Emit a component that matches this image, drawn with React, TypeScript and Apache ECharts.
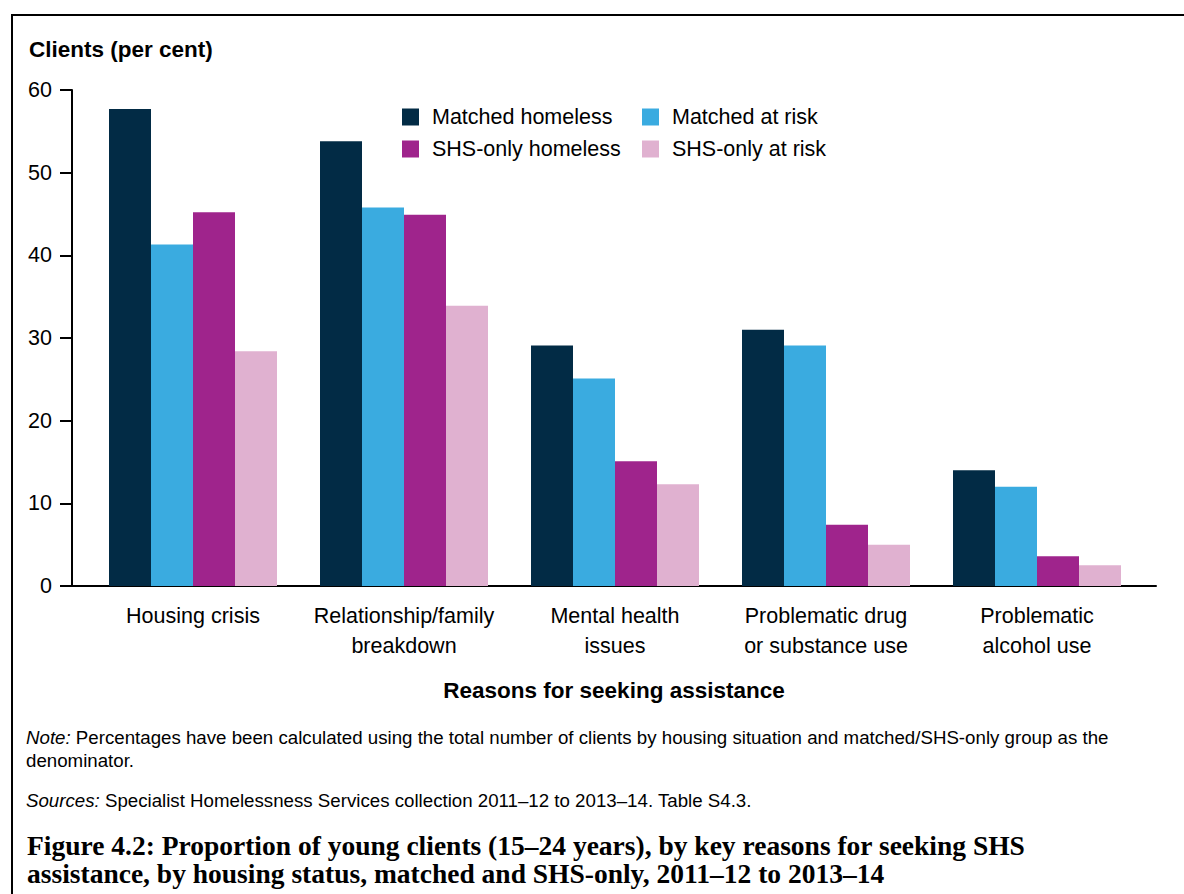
import React, { useEffect, useRef } from "react";
import * as echarts from "echarts";

const categories = [
  "Housing crisis",
  "Relationship/family\nbreakdown",
  "Mental health\nissues",
  "Problematic drug\nor substance use",
  "Problematic\nalcohol use",
];
const seriesNames = ["Matched homeless", "Matched at risk", "SHS-only homeless", "SHS-only at risk"];
const matchedHomeless = [57.7, 53.8, 29.1, 31.0, 14.0];
const matchedAtRisk = [41.3, 45.8, 25.1, 29.1, 12.0];
const shsOnlyHomeless = [45.2, 44.9, 15.1, 7.4, 3.6];
const shsOnlyAtRisk = [28.4, 33.9, 12.3, 5.0, 2.5];
const seriesColors = ["#022B45", "#3AABE0", "#9F248C", "#E0B1D0"];
const yTicks = { min: 0, max: 60, interval: 10 };

const FONT = '"Liberation Sans", Arial, Helvetica, sans-serif';
const SERIF = '"Liberation Serif", "Times New Roman", serif';

export default function App() {
  const ref = useRef<HTMLDivElement>(null);
  useEffect(() => {
    if (!ref.current) return;
    const chart = echarts.init(ref.current, undefined, { renderer: "svg" });
    const values = [matchedHomeless, matchedAtRisk, shsOnlyHomeless, shsOnlyAtRisk];
    const legendPos = [
      { left: 402, top: 106 },
      { left: 642, top: 106 },
      { left: 402, top: 138 },
      { left: 642, top: 138 },
    ];
    chart.setOption({
      animation: false,
      backgroundColor: "#fff",
      grid: [
        { left: 72, right: 28, top: 90, bottom: 308, containLabel: false },
        { left: 87.5, right: 41.5, top: 90, bottom: 308, containLabel: false },
      ],
      legend: seriesNames.map((n, i) => ({
        data: [n],
        left: legendPos[i].left,
        top: legendPos[i].top,
        padding: 0,
        itemWidth: 17,
        itemHeight: 17,
        icon: "rect",
        selectedMode: false,
        textStyle: { fontSize: 21.5, fontFamily: FONT, color: "#000", padding: [0, 0, 0, 8] },
      })),
      xAxis: [
        {
          gridIndex: 0,
          type: "category",
          data: [""],
          axisLine: { show: true, lineStyle: { color: "#000", width: 2 } },
          axisTick: { show: false },
          axisLabel: { show: false },
          splitLine: { show: false },
          name: "Reasons for seeking assistance",
          nameLocation: "middle",
          nameGap: 104,
          nameTextStyle: {
            fontSize: 22.5,
            fontWeight: "bold",
            fontFamily: FONT,
            color: "#000",
            verticalAlign: "middle",
          },
        },
        {
          gridIndex: 1,
          type: "category",
          data: categories,
          axisLine: { show: false },
          axisTick: { show: false },
          axisLabel: {
            show: true,
            interval: 0,
            margin: 15,
            fontSize: 21.5,
            lineHeight: 30,
            fontFamily: FONT,
            color: "#000",
          },
          splitLine: { show: false },
        },
      ],
      yAxis: [
        {
          gridIndex: 0,
          type: "value",
          min: yTicks.min,
          max: yTicks.max,
          interval: yTicks.interval,
          axisLine: { show: true, lineStyle: { color: "#000", width: 2 } },
          axisTick: { show: true, length: 12, lineStyle: { color: "#000", width: 2 } },
          axisLabel: { margin: 20, fontSize: 21.5, fontFamily: FONT, color: "#000" },
          splitLine: { show: false },
        },
        {
          gridIndex: 1,
          type: "value",
          min: yTicks.min,
          max: yTicks.max,
          interval: yTicks.interval,
          show: false,
          splitLine: { show: false },
        },
      ],
      series: seriesNames.map((n, i) => ({
        name: n,
        type: "bar",
        xAxisIndex: 1,
        yAxisIndex: 1,
        data: values[i],
        barWidth: 42,
        barGap: "0%",
        itemStyle: { color: seriesColors[i] },
        emphasis: { disabled: true },
      })),
      graphic: [
        {
          type: "rect",
          z: -10,
          shape: { x: 12, y: 15, width: 1400, height: 1100 },
          style: { fill: "none", stroke: "#000", lineWidth: 2 },
          silent: true,
        },
        {
          type: "text",
          x: 29,
          y: 49,
          style: {
            text: "Clients (per cent)",
            font: `bold 22.5px ${FONT}`,
            fill: "#000",
            textAlign: "left",
            textVerticalAlign: "middle",
            align: "left",
            verticalAlign: "middle",
          },
        },
        {
          type: "text",
          left: 26,
          top: 726,
          style: {
            text: "{i|Note:} Percentages have been calculated using the total number of clients by housing situation and matched/SHS-only group as the\ndenominator.",
            font: `18.7px ${FONT}`,
            fill: "#000",
            lineHeight: 23,
            rich: {
              i: { fontStyle: "italic", fontSize: 18.7, fontFamily: FONT, fill: "#000", lineHeight: 23 },
            },
          },
        },
        {
          type: "text",
          left: 26,
          top: 789,
          style: {
            text: "{i|Sources:} Specialist Homelessness Services collection 2011–12 to 2013–14. Table S4.3.",
            font: `18.7px ${FONT}`,
            fill: "#000",
            lineHeight: 23,
            rich: {
              i: { fontStyle: "italic", fontSize: 18.7, fontFamily: FONT, fill: "#000", lineHeight: 23 },
            },
          },
        },
        {
          type: "text",
          left: 27,
          top: 831,
          style: {
            text: "Figure 4.2: Proportion of young clients (15–24 years), by key reasons for seeking SHS\nassistance, by housing status, matched and SHS-only, 2011–12 to 2013–14",
            font: `bold 27.5px ${SERIF}`,
            fill: "#000",
            lineHeight: 28,
          },
        },
      ],
    });
    return () => chart.dispose();
  }, []);
  return (
    <div
      ref={ref}
      style={{ position: "fixed", left: 0, top: 0, width: 1184, height: 894, background: "#fff" }}
    />
  );
}
